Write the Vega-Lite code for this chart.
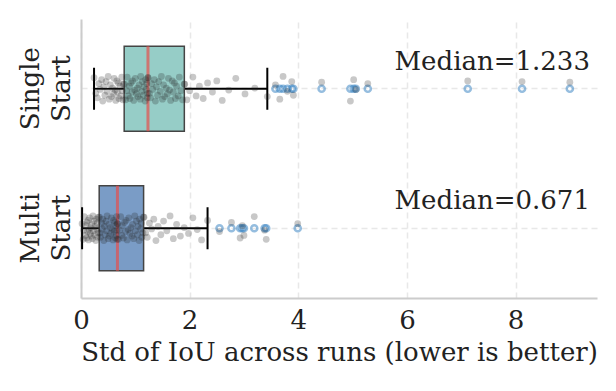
{
"$schema":"https://vega.github.io/schema/vega-lite/v6.json",
"width":516,"height":279,
"autosize":{"type":"none"},
"padding":{"left":81,"top":19,"right":19,"bottom":93},
"config":{"font":"DejaVu Serif","view":{"stroke":null},
 "axis":{"labelFont":"DejaVu Serif","titleFont":"DejaVu Serif","labelColor":"#222222","titleColor":"#222222","titleFontWeight":"normal","domainColor":"#cccccc","domainWidth":2,"gridColor":"#e8e8e8","gridDash":[6,4],"gridWidth":1.5,"ticks":false}},
"datasets":{
"pts":[
{"g":"Single Start","v":0.24,"j":-0.85},{"g":"Single Start","v":0.27,"j":0.35},{"g":"Single Start","v":0.30,"j":0.7},{"g":"Single Start","v":0.33,"j":-0.4},{"g":"Single Start","v":0.35,"j":0.05},{"g":"Single Start","v":0.38,"j":-0.7},{"g":"Single Start","v":0.40,"j":0.95},{"g":"Single Start","v":0.42,"j":-0.15},{"g":"Single Start","v":0.44,"j":0.5},{"g":"Single Start","v":0.46,"j":-0.55},{"g":"Single Start","v":0.48,"j":0.2},{"g":"Single Start","v":0.50,"j":-0.95},{"g":"Single Start","v":0.52,"j":0.8},{"g":"Single Start","v":0.54,"j":-0.3},{"g":"Single Start","v":0.56,"j":0.6},{"g":"Single Start","v":0.58,"j":-0.05},{"g":"Single Start","v":0.60,"j":0.4},{"g":"Single Start","v":0.61,"j":-0.8},{"g":"Single Start","v":0.63,"j":0.1},{"g":"Single Start","v":0.64,"j":0.9},{"g":"Single Start","v":0.66,"j":-0.6},{"g":"Single Start","v":0.67,"j":0.25},{"g":"Single Start","v":0.69,"j":-0.45},{"g":"Single Start","v":0.70,"j":0.75},{"g":"Single Start","v":0.72,"j":-0.2},{"g":"Single Start","v":0.73,"j":0.55},{"g":"Single Start","v":0.75,"j":-0.9},{"g":"Single Start","v":0.76,"j":0.15},{"g":"Single Start","v":0.77,"j":0.85},{"g":"Single Start","v":0.78,"j":-0.35},
{"g":"Single Start","v":0.80,"j":-0.35},{"g":"Single Start","v":0.82,"j":0.85},{"g":"Single Start","v":0.84,"j":0.15},{"g":"Single Start","v":0.85,"j":-0.9},{"g":"Single Start","v":0.87,"j":0.55},{"g":"Single Start","v":0.89,"j":-0.2},{"g":"Single Start","v":0.90,"j":0.75},{"g":"Single Start","v":0.92,"j":-0.45},{"g":"Single Start","v":0.94,"j":0.25},{"g":"Single Start","v":0.95,"j":-0.6},{"g":"Single Start","v":0.97,"j":0.9},{"g":"Single Start","v":0.99,"j":0.1},{"g":"Single Start","v":1.00,"j":-0.8},{"g":"Single Start","v":1.02,"j":0.4},{"g":"Single Start","v":1.04,"j":-0.05},{"g":"Single Start","v":1.05,"j":0.6},{"g":"Single Start","v":1.07,"j":-0.3},{"g":"Single Start","v":1.09,"j":0.8},{"g":"Single Start","v":1.10,"j":-0.95},{"g":"Single Start","v":1.12,"j":0.2},{"g":"Single Start","v":1.13,"j":-0.55},{"g":"Single Start","v":1.15,"j":0.5},{"g":"Single Start","v":1.16,"j":-0.15},{"g":"Single Start","v":1.18,"j":0.95},{"g":"Single Start","v":1.19,"j":-0.7},{"g":"Single Start","v":1.20,"j":0.05},{"g":"Single Start","v":1.21,"j":-0.4},{"g":"Single Start","v":1.22,"j":0.7},{"g":"Single Start","v":1.225,"j":0.35},{"g":"Single Start","v":1.230,"j":-0.85},
{"g":"Single Start","v":1.236,"j":-0.85},{"g":"Single Start","v":1.26,"j":0.35},{"g":"Single Start","v":1.28,"j":0.7},{"g":"Single Start","v":1.30,"j":-0.4},{"g":"Single Start","v":1.32,"j":0.05},{"g":"Single Start","v":1.35,"j":-0.7},{"g":"Single Start","v":1.37,"j":0.95},{"g":"Single Start","v":1.39,"j":-0.15},{"g":"Single Start","v":1.41,"j":0.5},{"g":"Single Start","v":1.43,"j":-0.55},{"g":"Single Start","v":1.46,"j":0.2},{"g":"Single Start","v":1.48,"j":-0.95},{"g":"Single Start","v":1.50,"j":0.8},{"g":"Single Start","v":1.52,"j":-0.3},{"g":"Single Start","v":1.54,"j":0.6},{"g":"Single Start","v":1.57,"j":-0.05},{"g":"Single Start","v":1.59,"j":0.4},{"g":"Single Start","v":1.61,"j":-0.8},{"g":"Single Start","v":1.63,"j":0.1},{"g":"Single Start","v":1.65,"j":0.9},{"g":"Single Start","v":1.68,"j":-0.6},{"g":"Single Start","v":1.70,"j":0.25},{"g":"Single Start","v":1.72,"j":-0.45},{"g":"Single Start","v":1.74,"j":0.75},{"g":"Single Start","v":1.76,"j":-0.2},{"g":"Single Start","v":1.79,"j":0.55},{"g":"Single Start","v":1.81,"j":-0.9},{"g":"Single Start","v":1.84,"j":0.15},{"g":"Single Start","v":1.87,"j":0.85},{"g":"Single Start","v":1.90,"j":-0.35},
{"g":"Single Start","v":1.91,"j":-0.35},{"g":"Single Start","v":1.95,"j":0.85},{"g":"Single Start","v":2.00,"j":0.15},{"g":"Single Start","v":2.06,"j":-0.9},{"g":"Single Start","v":2.12,"j":0.55},{"g":"Single Start","v":2.18,"j":-0.2},{"g":"Single Start","v":2.25,"j":0.75},{"g":"Single Start","v":2.33,"j":-0.45},{"g":"Single Start","v":2.42,"j":0.25},{"g":"Single Start","v":2.50,"j":-0.6},{"g":"Single Start","v":2.60,"j":0.9},{"g":"Single Start","v":2.72,"j":0.1},{"g":"Single Start","v":2.85,"j":-0.8},{"g":"Single Start","v":3.02,"j":0.4},{"g":"Single Start","v":3.20,"j":-0.05},{"g":"Single Start","v":3.43,"j":0.6},{"g":"Single Start","v":3.58,"j":-0.3},{"g":"Single Start","v":3.66,"j":0.8},{"g":"Single Start","v":3.72,"j":-0.95},{"g":"Single Start","v":3.80,"j":0.2},{"g":"Single Start","v":3.88,"j":-0.55},{"g":"Single Start","v":3.91,"j":0.5},{"g":"Single Start","v":4.43,"j":-0.5},{"g":"Single Start","v":4.96,"j":0.95},{"g":"Single Start","v":5.02,"j":-0.7},{"g":"Single Start","v":5.06,"j":0.05},{"g":"Single Start","v":5.28,"j":-0.4},{"g":"Single Start","v":7.12,"j":-0.6},{"g":"Single Start","v":8.12,"j":-0.55},{"g":"Single Start","v":9.00,"j":-0.5},
{"g":"Multi Start","v":0.02,"j":-0.35},{"g":"Multi Start","v":0.04,"j":0.85},{"g":"Multi Start","v":0.05,"j":0.15},{"g":"Multi Start","v":0.06,"j":-0.9},{"g":"Multi Start","v":0.08,"j":0.55},{"g":"Multi Start","v":0.09,"j":-0.2},{"g":"Multi Start","v":0.10,"j":0.75},{"g":"Multi Start","v":0.11,"j":-0.45},{"g":"Multi Start","v":0.12,"j":0.25},{"g":"Multi Start","v":0.13,"j":-0.6},{"g":"Multi Start","v":0.14,"j":0.9},{"g":"Multi Start","v":0.15,"j":0.1},{"g":"Multi Start","v":0.16,"j":-0.8},{"g":"Multi Start","v":0.17,"j":0.4},{"g":"Multi Start","v":0.18,"j":-0.05},{"g":"Multi Start","v":0.19,"j":0.6},{"g":"Multi Start","v":0.20,"j":-0.3},{"g":"Multi Start","v":0.21,"j":0.8},{"g":"Multi Start","v":0.22,"j":-0.95},{"g":"Multi Start","v":0.23,"j":0.2},{"g":"Multi Start","v":0.24,"j":-0.55},{"g":"Multi Start","v":0.25,"j":0.5},{"g":"Multi Start","v":0.26,"j":-0.15},{"g":"Multi Start","v":0.27,"j":0.95},{"g":"Multi Start","v":0.28,"j":-0.7},{"g":"Multi Start","v":0.29,"j":0.05},{"g":"Multi Start","v":0.30,"j":-0.4},{"g":"Multi Start","v":0.31,"j":0.7},{"g":"Multi Start","v":0.315,"j":0.35},{"g":"Multi Start","v":0.32,"j":-0.85},
{"g":"Multi Start","v":0.34,"j":-0.85},{"g":"Multi Start","v":0.35,"j":0.35},{"g":"Multi Start","v":0.36,"j":0.7},{"g":"Multi Start","v":0.38,"j":-0.4},{"g":"Multi Start","v":0.39,"j":0.05},{"g":"Multi Start","v":0.40,"j":-0.7},{"g":"Multi Start","v":0.42,"j":0.95},{"g":"Multi Start","v":0.43,"j":-0.15},{"g":"Multi Start","v":0.44,"j":0.5},{"g":"Multi Start","v":0.46,"j":-0.55},{"g":"Multi Start","v":0.47,"j":0.2},{"g":"Multi Start","v":0.48,"j":-0.95},{"g":"Multi Start","v":0.50,"j":0.8},{"g":"Multi Start","v":0.51,"j":-0.3},{"g":"Multi Start","v":0.52,"j":0.6},{"g":"Multi Start","v":0.54,"j":-0.05},{"g":"Multi Start","v":0.55,"j":0.4},{"g":"Multi Start","v":0.56,"j":-0.8},{"g":"Multi Start","v":0.58,"j":0.1},{"g":"Multi Start","v":0.59,"j":0.9},{"g":"Multi Start","v":0.60,"j":-0.6},{"g":"Multi Start","v":0.61,"j":0.25},{"g":"Multi Start","v":0.62,"j":-0.45},{"g":"Multi Start","v":0.63,"j":0.75},{"g":"Multi Start","v":0.64,"j":-0.2},{"g":"Multi Start","v":0.65,"j":0.55},{"g":"Multi Start","v":0.655,"j":-0.9},{"g":"Multi Start","v":0.66,"j":0.15},{"g":"Multi Start","v":0.665,"j":0.85},{"g":"Multi Start","v":0.668,"j":-0.35},
{"g":"Multi Start","v":0.674,"j":-0.35},{"g":"Multi Start","v":0.69,"j":0.85},{"g":"Multi Start","v":0.71,"j":0.15},{"g":"Multi Start","v":0.73,"j":-0.9},{"g":"Multi Start","v":0.75,"j":0.55},{"g":"Multi Start","v":0.76,"j":-0.2},{"g":"Multi Start","v":0.78,"j":0.75},{"g":"Multi Start","v":0.80,"j":-0.45},{"g":"Multi Start","v":0.82,"j":0.25},{"g":"Multi Start","v":0.83,"j":-0.6},{"g":"Multi Start","v":0.85,"j":0.9},{"g":"Multi Start","v":0.87,"j":0.1},{"g":"Multi Start","v":0.88,"j":-0.8},{"g":"Multi Start","v":0.90,"j":0.4},{"g":"Multi Start","v":0.92,"j":-0.05},{"g":"Multi Start","v":0.94,"j":0.6},{"g":"Multi Start","v":0.95,"j":-0.3},{"g":"Multi Start","v":0.97,"j":0.8},{"g":"Multi Start","v":0.99,"j":-0.95},{"g":"Multi Start","v":1.00,"j":0.2},{"g":"Multi Start","v":1.02,"j":-0.55},{"g":"Multi Start","v":1.04,"j":0.5},{"g":"Multi Start","v":1.05,"j":-0.15},{"g":"Multi Start","v":1.07,"j":0.95},{"g":"Multi Start","v":1.08,"j":-0.7},{"g":"Multi Start","v":1.10,"j":0.05},{"g":"Multi Start","v":1.11,"j":-0.4},{"g":"Multi Start","v":1.12,"j":0.7},{"g":"Multi Start","v":1.14,"j":0.35},{"g":"Multi Start","v":1.15,"j":-0.85},
{"g":"Multi Start","v":1.16,"j":-0.85},{"g":"Multi Start","v":1.19,"j":0.35},{"g":"Multi Start","v":1.22,"j":0.7},{"g":"Multi Start","v":1.26,"j":-0.4},{"g":"Multi Start","v":1.30,"j":0.05},{"g":"Multi Start","v":1.34,"j":-0.7},{"g":"Multi Start","v":1.38,"j":0.95},{"g":"Multi Start","v":1.42,"j":-0.15},{"g":"Multi Start","v":1.47,"j":0.5},{"g":"Multi Start","v":1.52,"j":-0.55},{"g":"Multi Start","v":1.58,"j":0.2},{"g":"Multi Start","v":1.64,"j":-0.95},{"g":"Multi Start","v":1.70,"j":0.8},{"g":"Multi Start","v":1.76,"j":-0.3},{"g":"Multi Start","v":1.83,"j":0.6},{"g":"Multi Start","v":1.90,"j":-0.05},{"g":"Multi Start","v":1.98,"j":0.4},{"g":"Multi Start","v":2.06,"j":-0.8},{"g":"Multi Start","v":2.14,"j":0.1},{"g":"Multi Start","v":2.22,"j":0.9},{"g":"Multi Start","v":2.33,"j":-0.6},{"g":"Multi Start","v":2.55,"j":0.25},{"g":"Multi Start","v":2.77,"j":-0.45},{"g":"Multi Start","v":2.93,"j":0.75},{"g":"Multi Start","v":2.97,"j":-0.2},{"g":"Multi Start","v":3.00,"j":0.55},{"g":"Multi Start","v":3.19,"j":-0.9},{"g":"Multi Start","v":3.38,"j":0.15},{"g":"Multi Start","v":3.41,"j":0.85},{"g":"Multi Start","v":3.99,"j":-0.35}
],
"med":[{"g":"Single Start","m":"Median=1.233"},{"g":"Multi Start","m":"Median=0.671"}]
},
"layer":[
{"data":{"name":"pts"},
 "transform":[{"filter":"datum.g === 'Single Start'"}],
 "mark":{"type":"boxplot","extent":1.5,"size":85,
   "box":{"color":"#96cdc7","stroke":"#444444","strokeWidth":1.5},
   "median":{"color":"#e5504d","thickness":3},
   "rule":{"color":"black","strokeWidth":1.8},
   "ticks":{"color":"black","size":42,"thickness":2},
   "outliers":{"color":"#3f88c5","filled":false,"size":38,"strokeWidth":2.5,"opacity":0.55}},
 "encoding":{
  "y":{"field":"g","type":"nominal","title":null,"scale":{"domain":["Single Start","Multi Start"],"paddingInner":0,"paddingOuter":0},
       "axis":{"title":null,"labelAngle":-90,"labelExpr":"split(datum.label,' ')","labelFontSize":26,"labelLineHeight":31,"labelPadding":43,"grid":true,"bandPosition":0.5,"labelAlign":"center","labelBaseline":"alphabetic"}},
  "x":{"field":"v","type":"quantitative","title":"Std of IoU across runs (lower is better)","scale":{"domain":[0,9.5],"nice":false},
       "axis":{"values":[0,2,4,6,8],"labelFontSize":26,"titleFontSize":26,"labelPadding":9,"titlePadding":6,"labelFlush":false,"grid":true}}
 }},
{"data":{"name":"pts"},
 "transform":[{"filter":"datum.g === 'Multi Start'"}],
 "mark":{"type":"boxplot","extent":1.5,"size":85,
   "box":{"color":"#7a9cc6","stroke":"#444444","strokeWidth":1.5},
   "median":{"color":"#e5504d","thickness":3},
   "rule":{"color":"black","strokeWidth":1.8},
   "ticks":{"color":"black","size":42,"thickness":2},
   "outliers":{"color":"#3f88c5","filled":false,"size":38,"strokeWidth":2.5,"opacity":0.55}},
 "encoding":{
  "y":{"field":"g","type":"nominal","title":null},
  "x":{"field":"v","type":"quantitative","title":"Std of IoU across runs (lower is better)"}
 }},
{"data":{"name":"pts"},
 "mark":{"type":"point","filled":true,"color":"#222222","opacity":0.25,"size":46,"strokeWidth":0},
 "encoding":{
   "y":{"field":"g","type":"nominal","title":null},
   "x":{"field":"v","type":"quantitative","title":"Std of IoU across runs (lower is better)"},
   "yOffset":{"field":"j","type":"quantitative","scale":{"domain":[-1,1],"range":[56.75,82.75]}}
 }},
{"data":{"name":"med"},
 "mark":{"type":"text","align":"right","baseline":"middle","fontSize":26,"dy":-27,"color":"#222222","font":"DejaVu Serif"},
 "encoding":{
   "y":{"field":"g","type":"nominal","title":null},
   "x":{"datum":9.37,"type":"quantitative","title":"Std of IoU across runs (lower is better)"},
   "text":{"field":"m"}
 }}
]
}
